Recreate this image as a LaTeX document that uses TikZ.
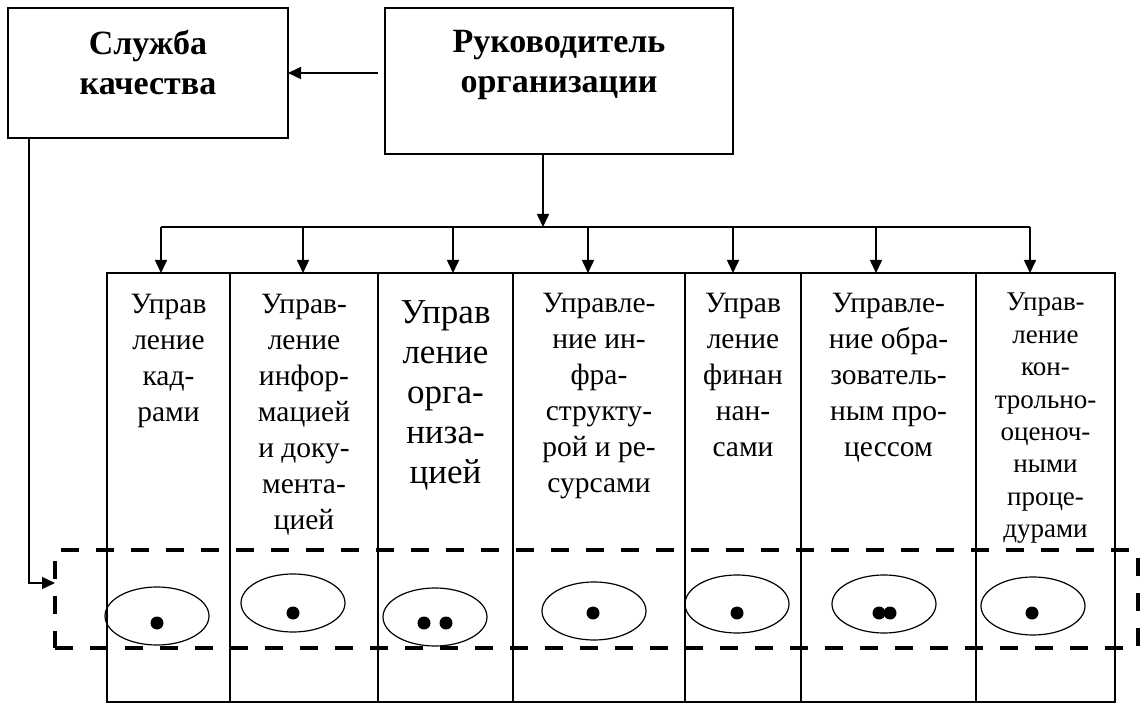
\documentclass[tikz,border=0pt]{standalone}
\usepackage{fontspec}
\setmainfont{Liberation Serif}
\usetikzlibrary{arrows.meta,shapes.geometric,positioning}
\tikzset{
  box/.style={draw, line width=1.6pt, inner sep=0pt, outer sep=0pt, anchor=north west},
  head/.style={font=\fontsize{34}{40}\selectfont\bfseries, align=center, inner sep=0pt, anchor=north},
  lbl/.style={font=\fontsize{29.5}{36}\selectfont, align=center, inner sep=0pt, anchor=north},
  arr/.style={line width=1.6pt, -{Triangle[length=13pt,width=12pt]}},
  oval/.style={draw, ellipse, line width=1.2pt, minimum width=104pt, minimum height=58pt, inner sep=0pt},
  zone/.style={draw, line width=4pt, dash pattern=on 18pt off 17pt, inner sep=0pt, outer sep=0pt, anchor=north west},
}

\begin{document}
\begin{tikzpicture}[x=1pt,y=-1pt]
\useasboundingbox (0,0) rectangle (1144,708);

\node[box, minimum width=280pt, minimum height=130pt] (sk) at (8,8) {};
\node[box, minimum width=348pt, minimum height=146pt] (rk) at (385,8) {};
\node[head] (skt) at ([yshift=-22pt]sk.north) {Служба\\качества};
\node[head] (rkt) at ([yshift=-22pt]rk.north) {Руководитель\\организации};

\foreach \i/\x/\w in {1/107/123, 2/230/148, 3/378/135, 4/513/172, 5/685/116, 6/801/175, 7/976/139}
  \node[box, minimum width=\w pt, minimum height=429pt] (c\i) at (\x,273) {};

\node[lbl] (t1) at ([yshift=-21pt]c1.north) {Управ\\ление\\кад-\\рами};
\node[lbl] (t2) at ([yshift=-21pt]c2.north) {Управ-\\ление\\инфор-\\мацией\\и доку-\\мента-\\цией};
\node[lbl, font=\fontsize{35}{40}\selectfont] (t3) at ([yshift=-27pt]c3.north) {Управ\\ление\\орга-\\низа-\\цией};
\node[lbl] (t4) at ([yshift=-20pt]c4.north) {Управле-\\ние ин-\\фра-\\структу-\\рой и ре-\\сурсами};
\node[lbl] (t5) at ([yshift=-20pt]c5.north) {Управ\\ление\\финан\\нан-\\сами};
\node[lbl] (t6) at ([yshift=-20pt]c6.north) {Управле-\\ние обра-\\зователь-\\ным про-\\цессом};
\node[lbl, font=\fontsize{27}{32.4}\selectfont] (t7) at ([yshift=-20pt]c7.north) {Управ-\\ление\\кон-\\трольно-\\оценоч-\\ными\\проце-\\дурами};

\draw[arr, shorten <=7pt] (rk.west |- sk.east) -- (sk.east);
\coordinate (hub) at (543,227);
\draw[arr] (hub |- rk.south) -- (hub);
\foreach \i/\x in {1/161, 2/303, 3/453, 4/588, 5/733, 6/876, 7/1030} {
  \coordinate (a\i) at (\x,227);
  \draw[arr] (a\i) -- (a\i |- c\i.north);
}
\draw[line width=1.6pt] (a1) -- (a7);

\foreach \i/\x/\y in {1/157/616, 2/293/603, 3/435/617, 4/594/611, 5/737/604, 6/884/604, 7/1033/606}
  \node[oval] (e\i) at (\x,\y) {};
\foreach \x/\y in {157/623, 293/613, 424/623, 446/623, 593/613, 737/613, 879/613, 890/613, 1032/613}
  \fill (\x,\y) circle (6.5pt);

\node[zone, minimum width=1083pt, minimum height=98pt] (dz) at (55,550) {};
\draw[arr] ([xshift=21pt]sk.south west) |- ([yshift=-33pt]dz.north west);
\end{tikzpicture}
\end{document}
